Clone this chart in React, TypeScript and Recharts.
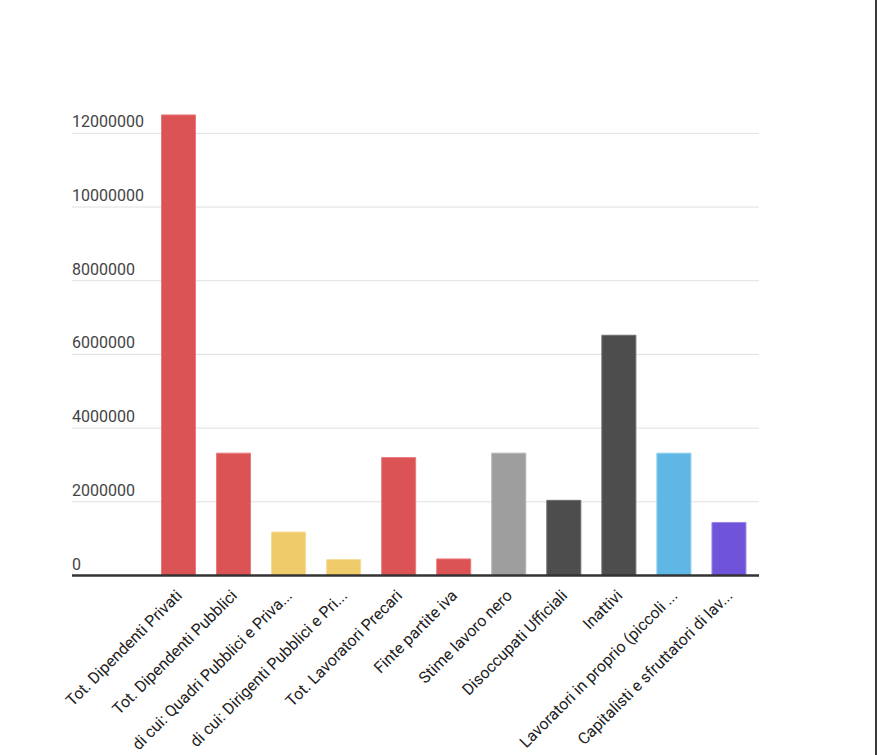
import { BarChart, Bar, XAxis, YAxis, CartesianGrid, Cell, ReferenceLine } from "recharts";

const categories = [
  "Tot. Dipendenti Privati",
  "Tot. Dipendenti Pubblici",
  "di cui: Quadri Pubblici e Priva...",
  "di cui: Dirigenti Pubblici e Pri...",
  "Tot. Lavoratori Precari",
  "Finte partite iva",
  "Stime lavoro nero",
  "Disoccupati Ufficiali",
  "Inattivi",
  "Lavoratori in proprio (piccoli ...",
  "Capitalisti e sfruttatori di lav...",
];

const values = [12500000, 3320000, 1180000, 430000, 3200000, 450000, 3320000, 2040000, 6520000, 3320000, 1440000];

const fills = ["#dc5356", "#dc5356", "#f0cb69", "#f0cb69", "#dc5356", "#dc5356", "#9e9e9e", "#4d4d4d", "#4d4d4d", "#5fb7e5", "#6f53d9"];
const strokes = ["#e87a7c", "#e87a7c", "#f5db95", "#f5db95", "#e87a7c", "#e87a7c", "#b5b5b5", "#6e6e6e", "#6e6e6e", "#8dcdee", "#9a86e6"];

const yTicks = [0, 2000000, 4000000, 6000000, 8000000, 10000000, 12000000];

const data = categories.map((name, i) => ({ name, value: values[i] }));

function YTick({ x, y, payload }: any) {
  return (
    <text x={x} y={y - 6} textAnchor="start" fill="#444" fontSize={16} fontFamily="Roboto">
      {payload.value}
    </text>
  );
}

function XTick({ x, y, payload }: any) {
  const ax = x + 5;
  const ay = y + 21;
  return (
    <text
      x={ax}
      y={ay}
      textAnchor="end"
      fill="#222"
      fontSize={16}
      fontFamily="Roboto"
      transform={`rotate(-45 ${ax} ${ay})`}
    >
      {payload.value}
    </text>
  );
}

export default function App() {
  return (
    <div style={{ position: "fixed", left: 0, top: 0, width: 877, height: 755, background: "#fff" }}>
      <BarChart
        width={877}
        height={755}
        data={data}
        margin={{ top: 96.5, right: 118, bottom: 0, left: 0 }}
      >
        <CartesianGrid vertical={false} stroke="#e0e0e0" horizontalValues={yTicks} />
        <YAxis
          width={72}
          domain={[0, 13000000]}
          ticks={yTicks}
          axisLine={false}
          tickLine={false}
          tickSize={0}
          tickMargin={0}
          tick={<YTick />}
        />
        <XAxis
          dataKey="name"
          height={179.5}
          interval={0}
          axisLine={false}
          tickLine={false}
          tickSize={0}
          tickMargin={0}
          padding={{ left: 78.5, right: 3 }}
          tick={<XTick />}
        />
        <Bar dataKey="value" barSize={34} isAnimationActive={false}>
          {data.map((d, i) => (
            <Cell key={d.name} fill={fills[i]} stroke={strokes[i]} strokeWidth={1} />
          ))}
        </Bar>
        <ReferenceLine y={0} stroke="#333" strokeWidth={2.5} />
      </BarChart>
      <div style={{ position: "absolute", left: 875, top: 0, width: 2, height: 755, background: "#3a3a3a" }} />
    </div>
  );
}
